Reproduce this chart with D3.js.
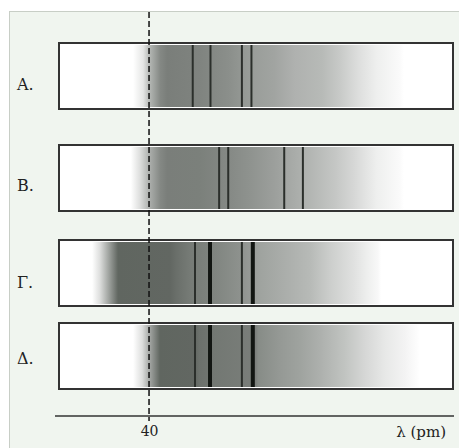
<!DOCTYPE html>
<html>
<head>
<meta charset="utf-8">
<script src="https://cdn.jsdelivr.net/npm/d3@7"></script>
<style>
  html, body { margin: 0; padding: 0; background: #ffffff; }
  .label { font-family: "DejaVu Serif", serif; font-size: 16px; fill: #222; }
  .tick text { font-family: "DejaVu Serif", serif; font-size: 14px; fill: #222; }
</style>
</head>
<body>
<div class="spectra"></div>
<script>
// panel labels
const categories = ["A.", "B.", "Γ.", "Δ."];

// continuous spectrum: [wavelength (pm), relative intensity]
const continuumA = [[36.5, 0], [38.7, 0.15], [40.2, 0.45], [42.5, 0.72], [44, 0.78], [51, 0.75], [57.6, 0.68], [62, 0.6], [67.5, 0.55], [72, 0.47], [78, 0.42], [82, 0.32], [86, 0.2], [90, 0.1], [95, 0.03], [96, 0]];
const continuumB = [[36, 0], [38, 0.2], [40.2, 0.5], [42.5, 0.72], [44, 0.78], [51, 0.77], [57, 0.72], [61.9, 0.66], [67.5, 0.58], [74.5, 0.46], [81, 0.34], [85, 0.24], [90, 0.1], [95, 0.03], [96, 0]];
const continuumG = [[27.5, 0], [29.2, 0.2], [31.4, 0.6], [33.2, 0.93], [44.6, 0.92], [46, 0.87], [49, 0.8], [54.5, 0.74], [60.2, 0.66], [64.4, 0.56], [71, 0.48], [75.4, 0.42], [79.8, 0.3], [85, 0.18], [88, 0.1], [90.3, 0.04], [91, 0]];
const continuumD = [[36.5, 0], [38.5, 0.2], [40.2, 0.55], [42.4, 0.93], [50, 0.92], [51, 0.86], [54.5, 0.82], [63.3, 0.78], [64, 0.7], [68.8, 0.62], [73.2, 0.56], [77.6, 0.48], [83, 0.36], [87.5, 0.24], [91.8, 0.14], [96.2, 0.07], [99.5, 0]];

// characteristic lines: [wavelength (pm), strength]
const linesA = [[49.6, 1], [53.5, 1], [60.4, 1], [62.5, 1]];
const linesB = [[55.4, 1], [57.4, 1], [69.7, 1], [73.8, 1]];
const linesG = [[50.1, 1], [53.4, 2], [60.4, 1], [62.8, 2]];
const linesD = [[50.1, 1], [53.4, 2], [60.4, 1], [62.8, 2]];

const tickValues = [40];
const cutoff = 40;
const axisLabel = "λ (pm)";

const continua = [continuumA, continuumB, continuumG, continuumD];
const lineSets = [linesA, linesB, linesG, linesD];

// layout
const width = 459, height = 448;
const rowTops = [42, 144, 239, 322];
const rowHeight = 68;
const labelDy = [9, 8, 10, 3];
const axisY = 416;

const svg = d3.select(".spectra")
  .append("svg")
  .attr("width", width)
  .attr("height", height);

const x = d3.scaleLinear().domain([20, 107]).range([58, 454]);
const shade = d3.scaleLinear().domain([0, 1]).range(["#ffffff", "#545a54"]);

const addPanel = () => {
  svg.append("rect")
    .attr("x", 9.5)
    .attr("y", 11.5)
    .attr("width", width)
    .attr("height", height)
    .attr("fill", "#f0f5ef")
    .attr("stroke", "#c8cec6")
}

const addGradients = () => {
  const defs = svg.append("defs");
  const [r0, r1] = x.range();
  continua.forEach((stops, i) => {
    defs.append("linearGradient")
      .attr("id", "cont" + i)
      .attr("gradientUnits", "userSpaceOnUse")
      .attr("x1", r0).attr("x2", r1)
      .attr("y1", 0).attr("y2", 0)
      .selectAll("stop")
      .data(stops)
      .enter()
      .append("stop")
      .attr("offset", d => (x(d[0]) - r0) / (r1 - r0))
      .attr("stop-color", d => shade(d[1]));
  });
}

const addRows = () => {
  const [r0, r1] = x.range();
  const rows = svg.selectAll("g.row")
    .data(categories)
    .enter()
    .append("g")
    .attr("class", "row")
    .attr("transform", (d, i) => "translate(0," + rowTops[i] + ")");

  rows.append("rect")
    .attr("x", r0 + 1)
    .attr("y", 1)
    .attr("width", r1 - r0 - 2)
    .attr("height", rowHeight - 2)
    .attr("fill", "#ffffff")
    .attr("stroke", "#333")
    .attr("stroke-width", 2);

  rows.append("rect")
    .attr("x", r0 + 3)
    .attr("y", 3)
    .attr("width", r1 - r0 - 6)
    .attr("height", rowHeight - 6)
    .attr("fill", (d, i) => "url(#cont" + i + ")");

  rows.selectAll("line.em")
    .data((d, i) => lineSets[i])
    .enter()
    .append("line")
    .attr("class", "em")
    .attr("x1", d => x(d[0]))
    .attr("x2", d => x(d[0]))
    .attr("y1", 3)
    .attr("y2", rowHeight - 3)
    .attr("stroke", d => d[1] > 1 ? "#121612" : "#2b2f2b")
    .attr("stroke-width", d => d[1] > 1 ? 4 : 2);

  rows.append("text")
    .attr("class", "label")
    .attr("x", 17)
    .attr("y", (d, i) => rowHeight / 2 + labelDy[i] + 5)
    .text(d => d);
}

const addAxis = () => {
  const [r0, r1] = x.range();
  svg.append("line")
    .attr("x1", r0 - 3)
    .attr("x2", r1)
    .attr("y1", axisY)
    .attr("y2", axisY)
    .attr("stroke", "#333")
    .attr("stroke-width", 1.5);

  svg.append("g")
    .attr("transform", "translate(0," + axisY + ")")
    .call(d3.axisBottom(x).tickValues(tickValues).tickSize(0).tickPadding(10))
    .call(g => g.select(".domain").remove());

  svg.append("text")
    .attr("class", "label")
    .attr("x", 446)
    .attr("y", axisY + 21)
    .attr("text-anchor", "end")
    .style("font-size", "15px")
    .text(axisLabel);
}

const addCutoff = () => {
  svg.append("line")
    .attr("x1", x(cutoff))
    .attr("x2", x(cutoff))
    .attr("y1", 12)
    .attr("y2", 421)
    .attr("stroke", "#111")
    .attr("stroke-width", 1.5)
    .attr("stroke-dasharray", "6,3");
}

addPanel();
addGradients();
addRows();
addAxis();
addCutoff();
</script>
</body>
</html>
